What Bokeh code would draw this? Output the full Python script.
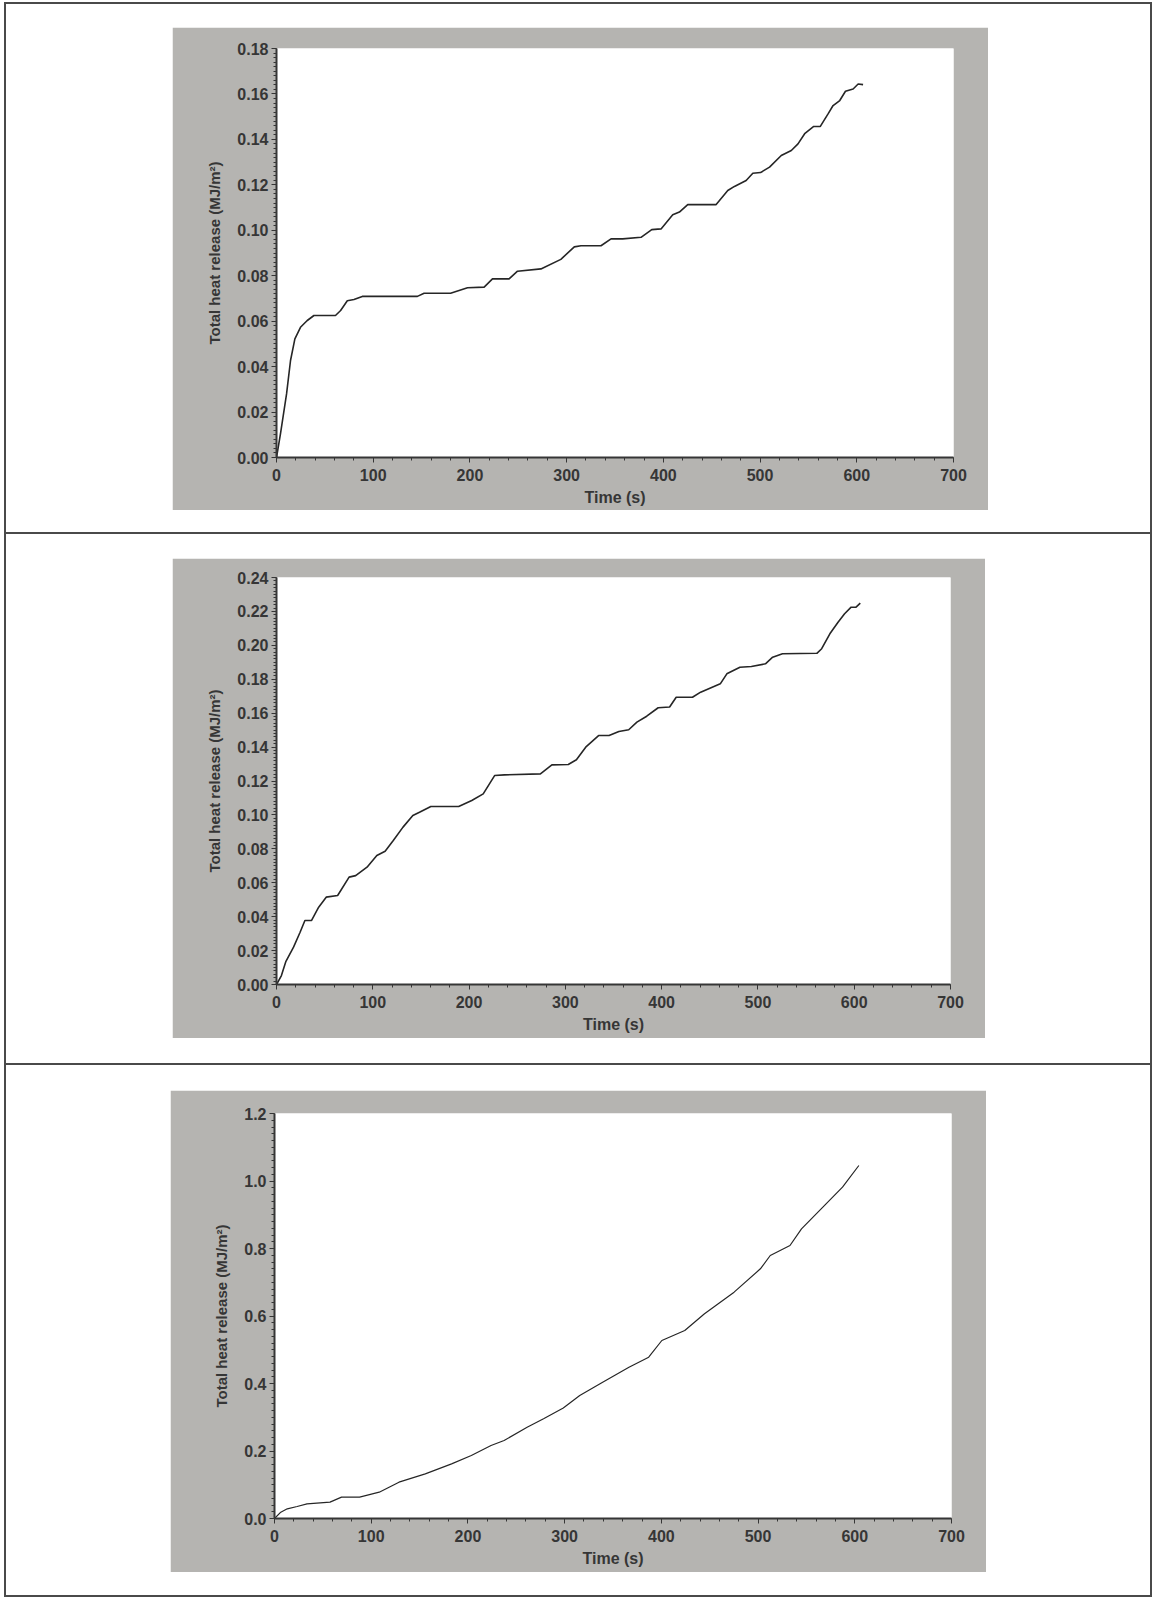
import numpy as np
from bokeh.plotting import figure
from bokeh.layouts import column
from bokeh.models import Div, FixedTicker, NumeralTickFormatter
from bokeh.embed import file_html
from bokeh.resources import INLINE

# ---- Total heat release curves (time in s, THR in MJ/m²) ----
time_a = [0, 4.1, 10.4, 14.5, 19, 24.8, 31.8, 38.7, 61, 66.3, 73.2, 80.1, 88.7, 145.7,
          152.6, 180, 197.5, 214.7, 223.3, 240.5, 249.2, 273.4, 294, 307.9, 314.8, 335.5,
          345.9, 358, 376.9, 388, 397.6, 409.7, 416.6, 425.2, 454.6, 466.6, 473.5, 485.6,
          492.5, 500.5, 509.8, 521.9, 532.3, 539.2, 546.1, 555.5, 562.3, 570.3, 575.5,
          582.4, 588.3, 596.2, 601.4, 606.5]
thr_a = [0, 0.0104, 0.028, 0.0427, 0.0522, 0.0573, 0.0603, 0.0625, 0.0625, 0.0647, 0.069,
         0.0695, 0.0709, 0.0709, 0.0723, 0.0723, 0.0747, 0.075, 0.0786, 0.0786, 0.082,
         0.083, 0.0872, 0.0927, 0.0932, 0.0932, 0.0962, 0.0962, 0.0969, 0.1003, 0.1006,
         0.1068, 0.108, 0.1113, 0.1113, 0.1175, 0.1193, 0.1219, 0.1251, 0.1254, 0.1278,
         0.1329, 0.1351, 0.138, 0.1425, 0.1457, 0.1457, 0.1512, 0.1549, 0.1571, 0.1612,
         0.1622, 0.1644, 0.1641]

time_b = [0, 5.1, 9.8, 17.7, 24.5, 29.5, 36.3, 43.8, 51.6, 63.5, 75.4, 82.2, 94, 104.2,
          112.8, 121.3, 131.4, 141.6, 148.5, 160.3, 189.2, 202.8, 214.7, 226.5, 236.7,
          274.1, 286, 303, 311.5, 321.7, 334.5, 345.4, 355.6, 365.8, 374.3, 384.5, 396.4,
          408.3, 415.1, 432, 440.5, 460.9, 467.7, 481.3, 493.2, 507.8, 515.3, 525.5, 561.2,
          566.2, 574.7, 583.2, 590, 596.8, 601.9, 606.3]
thr_b = [0, 0.0053, 0.0137, 0.022, 0.0308, 0.0377, 0.0377, 0.0456, 0.0515, 0.0525, 0.0633,
         0.0642, 0.0692, 0.0761, 0.0786, 0.0849, 0.0928, 0.0997, 0.1016, 0.105, 0.105,
         0.1085, 0.1124, 0.1232, 0.1236, 0.1242, 0.1295, 0.1297, 0.1325, 0.1403, 0.1468,
         0.1468, 0.1492, 0.1502, 0.1547, 0.1582, 0.1632, 0.1636, 0.1694, 0.1694, 0.1724,
         0.1773, 0.1832, 0.1871, 0.1875, 0.1891, 0.193, 0.195, 0.1953, 0.198, 0.2068,
         0.2136, 0.2186, 0.2225, 0.2225, 0.2249]

time_c = [0, 6.5, 13.2, 23.4, 33.6, 57.4, 69.3, 88, 108.3, 128.7, 155.9, 183.1, 203.5,
          223.9, 237.4, 261.2, 278.2, 298.6, 315.6, 339.3, 366.5, 386.9, 400.5, 424.2,
          444.6, 475.2, 502.4, 512.6, 533, 544.9, 570.3, 587.3, 604.2]
thr_c = [0, 0.0187, 0.0287, 0.0356, 0.0435, 0.0484, 0.0632, 0.0632, 0.078, 0.1076,
         0.1324, 0.162, 0.1867, 0.2163, 0.2311, 0.2706, 0.2954, 0.3272, 0.3644, 0.4039,
         0.4483, 0.4779, 0.5274, 0.557, 0.6065, 0.6706, 0.7398, 0.7793, 0.8089, 0.8583,
         0.9324, 0.9817, 1.0459]

# axis extents and tick steps per panel
y_max = [0.18, 0.24, 1.2]
y_step = [0.02, 0.02, 0.2]
y_fmt = ["0.00", "0.00", "0.0"]
x_max = 700
x_step = 100

X_LABEL = "Time (s)"
Y_LABEL = "Total heat release (MJ/m²)"

PANEL_GRAY = "#b5b4b1"
INK = "#363636"
FONT = "Liberation Sans"


def make_panel(t, v, ymax, ystep, yfmt, w, h, borders, margin, line_w):
    left, right, top, bottom = borders
    p = figure(width=w, height=h, x_range=(0, x_max), y_range=(0, ymax),
               output_backend="svg", toolbar_location=None,
               min_border_left=left, min_border_right=right,
               min_border_top=top, min_border_bottom=bottom,
               margin=margin)
    p.border_fill_color = PANEL_GRAY
    p.background_fill_color = "white"
    p.outline_line_color = None
    p.grid.visible = False

    p.line(t, v, line_color="#262626", line_width=line_w)

    xt = list(np.arange(0, x_max + 1, x_step))
    xm = list(np.arange(0, x_max + 1, x_step / 5))
    p.xaxis.ticker = FixedTicker(ticks=xt, minor_ticks=xm)
    n = int(round(ymax / ystep))
    yt = [round(i * ystep, 4) for i in range(n + 1)]
    ym = [round(i * ystep / 10, 5) for i in range(n * 10 + 1)]
    p.yaxis.ticker = FixedTicker(ticks=yt, minor_ticks=ym)
    p.yaxis.formatter = NumeralTickFormatter(format=yfmt)

    p.xaxis.axis_label = X_LABEL
    p.yaxis.axis_label = Y_LABEL
    for ax in (p.xaxis, p.yaxis):
        ax.axis_line_color = INK
        ax.axis_line_width = 2
        ax.major_tick_line_color = INK
        ax.minor_tick_line_color = INK
        ax.major_tick_out = 5
        ax.major_tick_in = 0
        ax.minor_tick_out = 3
        ax.minor_tick_in = 0
        ax.major_label_text_font = FONT
        ax.major_label_text_font_style = "bold"
        ax.major_label_text_font_size = "16px"
        ax.major_label_text_color = INK
        ax.axis_label_text_font = FONT
        ax.axis_label_text_font_style = "bold"
        ax.axis_label_text_color = INK
    p.xaxis.axis_label_text_font_size = "16px"
    p.yaxis.axis_label_text_font_size = "15px"
    p.xaxis.major_label_standoff = 6
    p.yaxis.major_label_standoff = 3
    p.xaxis.axis_label_standoff = 5
    p.yaxis.axis_label_standoff = 11
    return p


p1 = make_panel(time_a, thr_a, y_max[0], y_step[0], y_fmt[0], 816, 483,
                (104, 35, 21, 53), (23, 0, 22, 166), 1.6)
p2 = make_panel(time_b, thr_b, y_max[1], y_step[1], y_fmt[1], 813, 480,
                (99, 27, 19, 54), (24, 0, 25, 166), 1.6)
p3 = make_panel(time_c, thr_c, y_max[2], y_step[2], y_fmt[2], 816, 482,
                (97, 32, 23, 54), (25, 0, 23, 164), 1.2)

rule_style = {"background-color": "#4a4a4a"}
sep1 = Div(text="", width=1148, height=2, margin=0, styles=rule_style)
sep2 = Div(text="", width=1148, height=2, margin=0, styles=rule_style)

root = column(p1, sep1, p2, sep2, p3, width=1148, margin=(2, 0, 0, 4),
              styles={"border": "2px solid #4a4a4a", "background-color": "white"})

open("out.html", "w").write(file_html(root, INLINE))
